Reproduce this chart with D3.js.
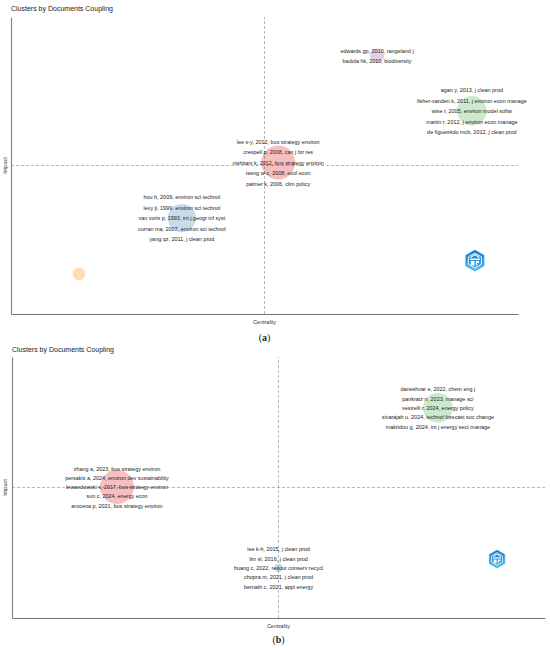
<!DOCTYPE html>
<html>
<head>
<meta charset="utf-8">
<script src="https://cdn.jsdelivr.net/npm/d3@7"></script>
<style>
body { margin: 0; background: #fff; }
svg { display: block; font-family: "Liberation Sans", Arial, sans-serif; }
</style>
</head>
<body>
<svg id="chart" width="550" height="648"></svg>
<script>
//DATA
//-------------------------------------------------------------------------

const chartTitle = "Clusters by Documents Coupling";
const xTitle = "Centrality";
const yTitle = "Impact";

//panel (a) clusters
const clustersA = ["c1", "c2", "c3", "c4", "c5"];
const centralityA = [72.2, 90.9, 52.7, 33.7, 13.4];
const impactA = [87.0, 68.4, 51.0, 32.3, 13.5];
const freqA = [5, 22, 29, 20, 4];
const labelsA = [
	["edwards gp, 2010, rangeland j", "badola hk, 2010, biodiversity"],
	["agan y, 2013, j clean prod", "fisher-vanden k, 2011, j environ econ manage", "wise r, 2005, environ model softw", "martin r, 2012, j environ econ manage", "de figueirêdo mcb, 2012, j clean prod"],
	["lee s-y, 2012, bus strategy environ", "crespell p, 2008, can j for res", "nishitani k, 2012, bus strategy environ", "tseng w-c, 2008, ecol econ", "palmer k, 2006, clim policy"],
	["hou h, 2009, environ sci technol", "levy ji, 1999, environ sci technol", "van voris p, 1993, int j geogr inf syst", "curran ma, 2007, environ sci technol", "yang qz, 2011, j clean prod"],
	[]
];

//panel (b) clusters
const clustersB = ["c1", "c2", "c3"];
const centralityB = [19.7, 79.9, 50.0];
const impactB = [50.2, 80.5, 19.2];
const freqB = [29, 22, 2];
const labelsB = [
	["zhang a, 2023, bus strategy environ", "persakis a, 2024, environ dev sustainability", "lewandowski s, 2017, bus strategy environ", "sun c, 2024, energy econ", "arocena p, 2021, bus strategy environ"],
	["daneshvar e, 2022, chem eng j", "pankratz n, 2023, manage sci", "vestrelli r, 2024, energy policy", "sivarajah u, 2024, technol forecast soc change", "makridou g, 2024, int j energy sect manage"],
	["lee k-h, 2015, j clean prod", "lim sl, 2016, j clean prod", "huang c, 2022, resour conserv recycl", "chopra m, 2021, j clean prod", "bernath c, 2021, appl energy"]
];


//INITIALISATION
//-------------------------------------------------------------------------

const svg = d3.select("#chart");

//logo gradient
const defs = svg.append("defs");
const grad = defs.append("linearGradient")
	.attr("id", "logoGrad")
	.attr("x1", 0).attr("y1", 0).attr("x2", 0).attr("y2", 1);
grad.append("stop").attr("offset", "0%").attr("stop-color", "#1565c0");
grad.append("stop").attr("offset", "100%").attr("stop-color", "#4fc3f7");

//cluster colours (Set1 with transparency)
const clusterColor = {
	A: d3.scaleOrdinal().domain(clustersA).range([d3.schemeSet1[3], d3.schemeSet1[2], d3.schemeSet1[0], d3.schemeSet1[1], d3.schemeSet1[4]]),
	B: d3.scaleOrdinal().domain(clustersB).range([d3.schemeSet1[0], d3.schemeSet1[2], d3.schemeSet1[1]])
};

const size = d3.scaleSqrt().domain([0, 29]).range([0, 17]);


//PANEL DRAWING
//-------------------------------------------------------------------------

function drawLogo(g, cx, cy, s) {
	const lg = g.append("g").attr("transform", `translate(${cx} ${cy}) scale(${s})`);
	const hex = d3.range(6).map((i) => {
		const a = Math.PI / 3 * i - Math.PI / 2;
		return [Math.cos(a) * 10.5, Math.sin(a) * 10.5];
	});
	lg.append("path")
		.attr("d", d3.line()(hex) + "Z")
		.attr("fill", "url(#logoGrad)")
		.attr("stroke", "#29b6f6")
		.attr("stroke-width", 0.8);
	const inner = hex.map((p) => [p[0] * 0.72, p[1] * 0.72]);
	lg.append("path")
		.attr("d", d3.line()(inner) + "Z")
		.attr("fill", "none")
		.attr("stroke", "#fff")
		.attr("stroke-width", 0.9);
	//roof
	lg.append("path")
		.attr("d", "M-4.5,-3 L0,-6 L4.5,-3")
		.attr("fill", "none")
		.attr("stroke", "#fff")
		.attr("stroke-width", 1.2);
	//band
	lg.append("rect").attr("x", -5).attr("y", -2).attr("width", 10).attr("height", 1.4).attr("fill", "#fff");
	//body
	lg.append("path")
		.attr("d", "M-4,0.5 L-0.5,0.5 L-0.5,5 L-4,5 Z M1,0.5 L4,0.5 L4,2.5 L2,2.5 L2,5 L1,5 Z")
		.attr("fill", "#fff");
}

function drawPanel(p) {
	const x = d3.scaleLinear().domain([0, 100]).range([p.left, p.right]);
	const y = d3.scaleLinear().domain([0, 100]).range([p.bottom, p.top]);
	const g = svg.append("g").attr("class", "panel");

	//title
	g.append("text")
		.attr("x", p.left)
		.attr("y", p.titleY)
		.attr("font-size", 7.0)
		.attr("fill", "#222")
		.text(chartTitle);

	//mean lines
	g.append("line")
		.attr("x1", x(0)).attr("x2", x(100))
		.attr("y1", y(50)).attr("y2", y(50))
		.attr("stroke", "#999")
		.attr("stroke-width", 0.7)
		.attr("stroke-dasharray", "3,2");
	g.append("line")
		.attr("x1", x(50)).attr("x2", x(50))
		.attr("y1", y(0)).attr("y2", y(100))
		.attr("stroke", "#999")
		.attr("stroke-width", 0.7)
		.attr("stroke-dasharray", "3,2");

	//axes (no ticks)
	g.append("g")
		.attr("transform", `translate(0 ${p.bottom})`)
		.call(d3.axisBottom(x).tickValues([]).tickSizeOuter(0))
		.select(".domain").attr("stroke", "#666").attr("stroke-width", 0.9);
	g.append("g")
		.attr("transform", `translate(${p.left} 0)`)
		.call(d3.axisLeft(y).tickValues([]).tickSizeOuter(0))
		.select(".domain").attr("stroke", "#888").attr("stroke-width", 1.2);

	//axis titles
	g.append("text")
		.attr("x", x(50))
		.attr("y", p.bottom + 10)
		.attr("text-anchor", "middle")
		.attr("font-size", 5.5)
		.attr("fill", "#333")
		.text(xTitle);
	g.append("text")
		.attr("transform", `translate(7 ${y(50)}) rotate(-90)`)
		.attr("text-anchor", "middle")
		.attr("font-size", 5.5)
		.attr("fill", "#333")
		.text(yTitle);

	//bubbles
	const rows = p.clusters.map((c, i) => ({
		id: c, cx: p.cen[i], cy: p.imp[i], n: p.freq[i], labels: p.labels[i]
	}));

	g.selectAll(".bubble")
		.data(rows)
		.join("circle")
		.attr("class", "bubble")
		.attr("cx", (d) => x(d.cx))
		.attr("cy", (d) => y(d.cy))
		.attr("r", (d) => size(d.n))
		.attr("fill", (d) => p.color(d.id))
		.attr("fill-opacity", 0.28);

	//labels
	rows.forEach((d) => {
		const k = d.labels.length;
		g.selectAll(null)
			.data(d.labels)
			.join("text")
			.attr("x", x(d.cx))
			.attr("y", (t, i) => y(d.cy) + (i - (k - 1) / 2) * p.lineH + 2.2)
			.attr("text-anchor", "middle")
			.attr("font-size", 5.45)
			.attr("fill", "#222")
			.text((t) => t);
	});

	drawLogo(g, x(p.logo[0]), y(p.logo[1]), p.logoS);

	//panel letter
	g.append("text")
		.attr("x", x(50))
		.attr("y", p.letterY)
		.attr("text-anchor", "middle")
		.attr("font-family", "'Liberation Serif', 'Times New Roman', serif")
		.attr("font-size", 10)
		.attr("fill", "#222")
		.html(`(<tspan font-weight="bold">${p.letter}</tspan>)`);
}

drawPanel({
	left: 11, right: 518, top: 17, bottom: 314,
	titleY: 11, letterY: 341, letter: "a", lineH: 10.5,
	clusters: clustersA, cen: centralityA, imp: impactA, freq: freqA, labels: labelsA,
	color: clusterColor.A, logo: [91.5, 18], logoS: 1
});

drawPanel({
	left: 12, right: 545, top: 357, bottom: 618,
	titleY: 352, letterY: 643, letter: "b", lineH: 9.3,
	clusters: clustersB, cen: centralityB, imp: impactB, freq: freqB, labels: labelsB,
	color: clusterColor.B, logo: [91, 22.6], logoS: 0.85
});
</script>
</body>
</html>
